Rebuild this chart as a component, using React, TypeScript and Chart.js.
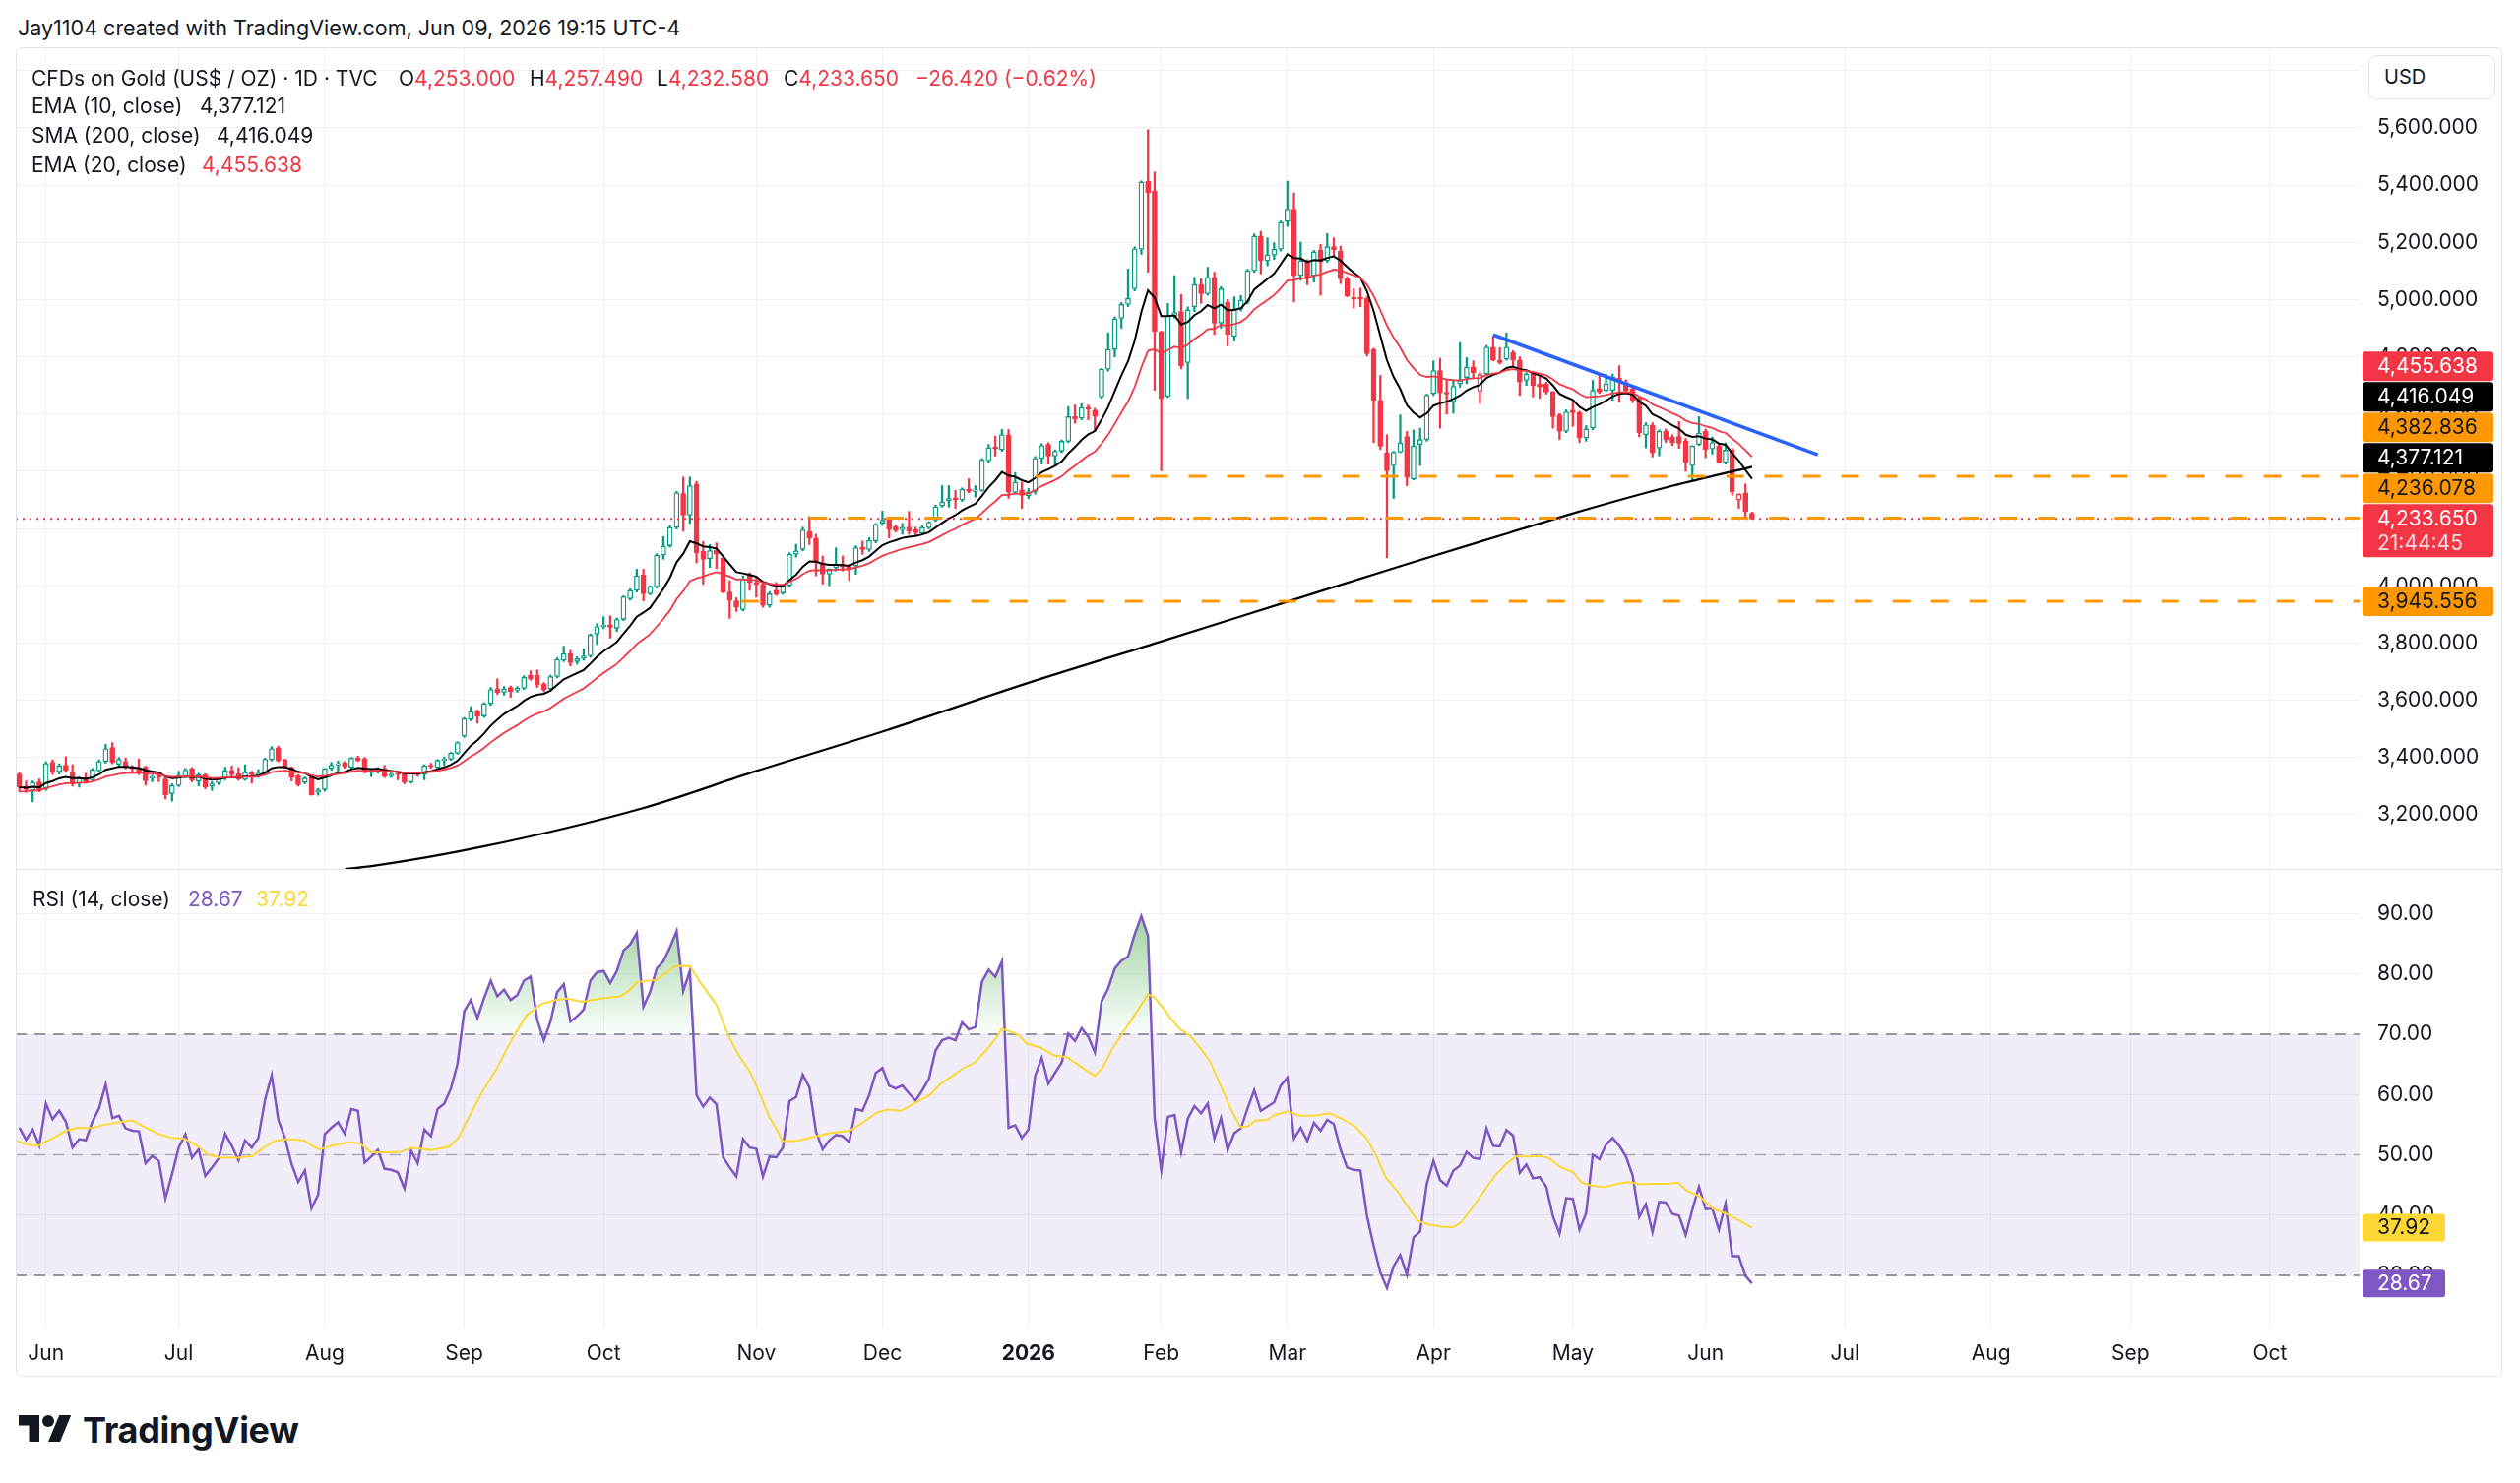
import React, { useEffect, useRef } from 'react';
import { Chart, registerables } from 'chart.js';

Chart.register(...registerables);

// ---------------- DATA ----------------
// Daily candles [open, high, low, close]; bar index 0 = first June 2025 session.
const FIRST_INDEX = -4;
const barsMay25 = [
  [3342, 3348, 3280, 3296], [3300, 3318, 3278, 3288], [3285, 3318, 3245, 3313], [3315, 3325, 3280, 3284],
];
const barsJun25 = [
  [3290, 3385, 3285, 3379], [3383, 3392, 3340, 3348], [3350, 3378, 3342, 3371], [3373, 3403, 3350, 3354],
  [3350, 3375, 3300, 3308], [3310, 3333, 3296, 3328], [3330, 3345, 3310, 3313], [3322, 3362, 3318, 3357],
  [3354, 3392, 3350, 3386], [3386, 3446, 3380, 3431], [3435, 3452, 3378, 3383], [3376, 3400, 3370, 3394],
  [3386, 3398, 3360, 3365], [3365, 3372, 3345, 3360], [3360, 3395, 3340, 3352], [3366, 3370, 3303, 3319],
  [3328, 3338, 3315, 3333], [3340, 3345, 3315, 3330], [3325, 3332, 3255, 3270], [3274, 3308, 3248, 3302],
];
const barsJul25 = [
  [3302, 3352, 3298, 3336], [3333, 3362, 3328, 3356], [3360, 3365, 3315, 3321], [3318, 3345, 3300, 3340],
  [3340, 3344, 3290, 3296], [3300, 3315, 3285, 3308], [3312, 3330, 3305, 3328], [3328, 3366, 3322, 3354],
  [3355, 3370, 3335, 3340], [3343, 3365, 3320, 3325], [3323, 3375, 3320, 3348], [3347, 3352, 3310, 3340],
  [3338, 3358, 3330, 3345], [3345, 3398, 3340, 3394], [3392, 3438, 3388, 3431], [3434, 3440, 3385, 3388],
  [3391, 3395, 3362, 3365], [3365, 3368, 3318, 3330], [3336, 3340, 3300, 3305], [3313, 3332, 3308, 3328],
  [3330, 3336, 3268, 3270], [3278, 3292, 3268, 3286],
];
const barsAug25 = [
  [3288, 3362, 3282, 3360], [3362, 3383, 3355, 3373], [3374, 3388, 3352, 3378], [3382, 3386, 3362, 3368],
  [3366, 3400, 3362, 3398], [3398, 3405, 3386, 3390], [3396, 3400, 3345, 3348], [3348, 3358, 3333, 3355],
  [3352, 3365, 3345, 3362], [3362, 3373, 3330, 3333], [3336, 3346, 3330, 3342], [3346, 3350, 3322, 3340],
  [3342, 3345, 3308, 3313], [3314, 3348, 3310, 3345], [3346, 3350, 3334, 3340], [3342, 3375, 3322, 3371],
  [3373, 3380, 3362, 3368], [3365, 3393, 3360, 3390], [3390, 3402, 3372, 3395], [3394, 3418, 3390, 3415],
  [3415, 3455, 3412, 3452],
];
const barsSep25 = [
  [3475, 3540, 3470, 3536], [3533, 3578, 3528, 3560], [3562, 3566, 3520, 3545], [3545, 3592, 3540, 3588],
  [3588, 3645, 3582, 3637], [3640, 3675, 3620, 3627], [3628, 3648, 3618, 3640], [3645, 3650, 3610, 3630],
  [3635, 3648, 3628, 3642], [3642, 3686, 3638, 3680], [3688, 3703, 3670, 3674], [3688, 3706, 3645, 3653],
  [3657, 3662, 3630, 3637], [3640, 3688, 3635, 3683], [3683, 3748, 3678, 3743], [3740, 3789, 3735, 3763],
  [3763, 3775, 3720, 3731], [3735, 3752, 3726, 3745], [3746, 3780, 3740, 3755], [3755, 3832, 3750, 3828],
  [3831, 3868, 3795, 3857],
];
const barsOct25 = [
  [3858, 3892, 3850, 3862], [3863, 3895, 3817, 3855], [3852, 3888, 3840, 3882], [3883, 3965, 3878, 3961],
  [3955, 3990, 3950, 3984], [3984, 4058, 3978, 4035], [4038, 4058, 3947, 3972], [3972, 4000, 3968, 3997],
  [3997, 4112, 3992, 4107], [4108, 4172, 4093, 4138], [4140, 4210, 4135, 4204], [4204, 4330, 4198, 4325],
  [4322, 4380, 4190, 4247], [4247, 4380, 4218, 4350], [4356, 4365, 4080, 4115], [4120, 4155, 4005, 4092],
  [4095, 4144, 4064, 4123], [4125, 4150, 4060, 4110], [4096, 4100, 3975, 3978], [3978, 4018, 3886, 3949],
  [3947, 3958, 3910, 3926], [3917, 4035, 3912, 4024], [4040, 4046, 3984, 4012],
];
const barsNov25 = [
  [4012, 4030, 3960, 4005], [4006, 4010, 3925, 3932], [3932, 3980, 3925, 3972], [3984, 4012, 3966, 3970],
  [3975, 4003, 3970, 4000], [4002, 4115, 3998, 4110], [4110, 4145, 4100, 4122], [4128, 4205, 4122, 4195],
  [4190, 4242, 4144, 4167], [4167, 4180, 4035, 4081], [4081, 4104, 4006, 4041], [4041, 4060, 4000, 4058],
  [4063, 4133, 4052, 4074], [4074, 4104, 4052, 4066], [4068, 4075, 4018, 4060], [4070, 4140, 4040, 4133],
  [4135, 4156, 4110, 4127], [4127, 4168, 4120, 4158], [4157, 4218, 4150, 4215],
];
const barsDec25 = [
  [4219, 4261, 4210, 4229], [4230, 4238, 4167, 4196], [4206, 4212, 4188, 4193], [4196, 4218, 4180, 4204],
  [4205, 4260, 4180, 4190], [4197, 4205, 4175, 4185], [4184, 4210, 4180, 4204], [4203, 4225, 4198, 4222],
  [4230, 4282, 4225, 4276], [4280, 4350, 4275, 4293], [4297, 4350, 4275, 4305], [4308, 4333, 4270, 4300],
  [4300, 4342, 4295, 4337], [4337, 4374, 4325, 4330], [4330, 4350, 4310, 4335], [4333, 4445, 4330, 4440],
  [4437, 4494, 4430, 4482], [4485, 4523, 4453, 4478], [4476, 4546, 4470, 4528], [4528, 4546, 4305, 4327],
  [4327, 4396, 4322, 4362], [4335, 4362, 4270, 4316],
];
const barsJan26 = [
  [4315, 4340, 4305, 4328], [4330, 4452, 4320, 4445], [4445, 4497, 4425, 4490], [4494, 4500, 4425, 4453],
  [4453, 4475, 4420, 4470], [4471, 4510, 4465, 4505], [4505, 4626, 4500, 4591], [4591, 4632, 4568, 4582],
  [4586, 4637, 4580, 4623], [4624, 4632, 4580, 4617], [4614, 4620, 4540, 4592], [4660, 4760, 4655, 4757],
  [4757, 4884, 4750, 4826], [4826, 4940, 4800, 4933], [4935, 4990, 4900, 4983], [4984, 5107, 4975, 5004],
  [5038, 5185, 5030, 5178], [5176, 5415, 5158, 5411], [5414, 5594, 5096, 5373], [5380, 5446, 4683, 4889],
];
const barsFeb26 = [
  [4889, 4890, 4402, 4654], [4662, 4987, 4658, 4944], [4942, 5084, 4935, 4955], [4958, 5018, 4758, 4769],
  [4780, 4975, 4654, 4964], [4975, 5078, 4958, 5052], [5052, 5073, 4987, 5021], [5021, 5113, 5015, 5078],
  [5078, 5096, 4878, 4918], [4918, 5045, 4900, 5038], [4992, 5000, 4838, 4878], [4872, 5010, 4855, 4967],
  [4967, 5015, 4960, 4998], [4993, 5106, 4985, 5101], [5101, 5230, 5095, 5222], [5222, 5239, 5090, 5136],
  [5136, 5216, 5118, 5156], [5156, 5199, 5140, 5176], [5176, 5275, 5170, 5270],
];
const barsMar26 = [
  [5273, 5414, 5256, 5316], [5316, 5373, 4992, 5084], [5084, 5201, 5067, 5136], [5132, 5140, 5052, 5078],
  [5084, 5172, 5061, 5167], [5172, 5193, 5015, 5132], [5136, 5231, 5130, 5185], [5185, 5216, 5153, 5174],
  [5170, 5187, 5056, 5073], [5073, 5080, 5010, 5013], [5008, 5038, 4970, 5003], [5008, 5040, 4975, 5001],
  [5004, 5010, 4803, 4811], [4826, 4830, 4500, 4648], [4648, 4735, 4476, 4488], [4465, 4528, 4098, 4402],
  [4420, 4470, 4305, 4467], [4467, 4597, 4465, 4499], [4522, 4540, 4350, 4379], [4373, 4545, 4370, 4488],
  [4494, 4551, 4420, 4511], [4511, 4670, 4505, 4666],
];
const barsApr26 = [
  [4672, 4786, 4665, 4752], [4752, 4795, 4551, 4674], [4676, 4718, 4600, 4670], [4643, 4717, 4603, 4697],
  [4706, 4850, 4694, 4717], [4728, 4797, 4706, 4763], [4765, 4786, 4728, 4745], [4680, 4745, 4637, 4738],
  [4740, 4840, 4735, 4834], [4834, 4872, 4786, 4788], [4788, 4832, 4775, 4780], [4792, 4884, 4788, 4834],
  [4815, 4822, 4770, 4788], [4788, 4800, 4665, 4712], [4718, 4745, 4700, 4740], [4744, 4750, 4660, 4700],
  [4706, 4735, 4655, 4695], [4706, 4712, 4670, 4677], [4677, 4680, 4551, 4591], [4597, 4602, 4511, 4540],
  [4540, 4615, 4535, 4608],
];
const barsMay26 = [
  [4614, 4648, 4557, 4605], [4605, 4610, 4500, 4517], [4517, 4560, 4505, 4548], [4551, 4718, 4545, 4683],
  [4688, 4735, 4672, 4677], [4683, 4740, 4678, 4706], [4683, 4740, 4648, 4729], [4726, 4769, 4643, 4711],
  [4711, 4720, 4680, 4683], [4688, 4695, 4640, 4648], [4655, 4662, 4520, 4534], [4528, 4570, 4482, 4562],
  [4562, 4570, 4450, 4465], [4482, 4545, 4454, 4540], [4540, 4548, 4500, 4511], [4520, 4528, 4490, 4500],
  [4522, 4574, 4480, 4498], [4505, 4515, 4400, 4430], [4420, 4490, 4367, 4488], [4494, 4591, 4490, 4534],
];
const barsJun26 = [
  [4540, 4548, 4448, 4477], [4478, 4520, 4460, 4500], [4488, 4495, 4430, 4431], [4431, 4500, 4425, 4474],
  [4474, 4480, 4316, 4328], [4300, 4322, 4270, 4320], [4325, 4356, 4241, 4260.07], [4253, 4257.49, 4232.58, 4233.65],
];

// RSI(14) per bar, aligned with the candles
const rsiMay25 = [54.5, 52.5, 54.2, 51.5];
const rsiJun25 = [58.5, 55.9, 57.3, 55.5, 51.2, 52.6, 52.4, 55.5, 57.7, 61.7, 56.1, 56.5, 54.4, 54.0, 53.9, 48.6, 49.8, 49.0, 42.8, 46.8];
const rsiJul25 = [51.2, 53.4, 49.5, 50.9, 46.5, 47.9, 49.4, 53.5, 51.5, 49.1, 52.4, 51.2, 52.8, 59.1, 63.2, 55.8, 52.8, 48.5, 45.5, 47.4, 41.1, 43.4];
const rsiAug25 = [53.4, 54.5, 55.4, 53.5, 57.6, 57.3, 48.7, 49.7, 50.8, 47.7, 47.5, 47.1, 44.4, 50.7, 48.6, 54.2, 53.1, 57.6, 58.5, 61.0, 65.1];
const rsiSep25 = [73.8, 75.7, 72.7, 76.0, 78.9, 76.3, 77.4, 75.7, 76.5, 78.9, 79.6, 72.4, 69.0, 72.1, 77.0, 78.3, 72.1, 73.0, 74.1, 78.9, 80.3];
const rsiOct25 = [80.5, 78.5, 80.5, 83.9, 84.9, 86.8, 74.6, 77.0, 80.9, 82.1, 84.4, 87.1, 77.2, 80.5, 59.9, 58.0, 59.5, 58.4, 49.6, 47.9, 46.4, 52.6, 51.2];
const rsiNov25 = [51.0, 46.4, 49.7, 49.6, 51.2, 58.9, 59.6, 63.3, 61.2, 53.8, 50.9, 52.4, 53.3, 53.1, 52.1, 57.6, 57.3, 59.9, 63.6];
const rsiDec25 = [64.4, 61.5, 61.0, 61.5, 60.2, 59.0, 60.7, 62.6, 67.3, 69.0, 69.4, 69.0, 72.0, 70.8, 71.2, 78.7, 80.7, 79.5, 82.1, 54.5, 54.9, 52.8];
const rsiJan26 = [54.2, 63.1, 66.1, 61.8, 63.6, 65.3, 70.1, 68.9, 71.0, 69.6, 67.0, 75.4, 77.6, 80.9, 82.2, 82.9, 86.6, 89.6, 86.3, 56.1];
const rsiFeb26 = [47.4, 56.3, 56.6, 50.4, 56.0, 58.1, 56.9, 58.5, 52.7, 56.1, 50.8, 53.6, 54.4, 57.7, 60.7, 57.3, 58.0, 58.7, 61.5];
const rsiMar26 = [62.8, 52.7, 54.5, 52.3, 55.3, 54.0, 55.8, 55.1, 50.9, 47.9, 47.5, 47.4, 39.8, 34.9, 30.5, 27.9, 31.5, 33.4, 30.1, 36.3, 37.3, 45.2];
const rsiApr26 = [49.0, 45.8, 44.9, 47.4, 48.2, 50.5, 49.5, 49.3, 54.4, 51.5, 51.4, 54.1, 53.2, 47.0, 48.4, 46.1, 46.3, 44.7, 39.8, 36.9, 42.8];
const rsiMay26 = [42.7, 37.6, 40.3, 50.0, 49.3, 51.7, 52.8, 51.5, 49.7, 46.6, 39.7, 41.8, 37.2, 42.2, 42.1, 40.2, 39.9, 36.7, 40.9, 44.7];
const rsiJun26 = [41.0, 41.1, 37.6, 41.9, 33.2, 33.2, 29.9, 28.67];

// RSI-based MA, read as [bar index, value]
const rsiMaQ1 = [[-4.3, 52.3], [-2.9, 51.7], [-1.1, 51.5], [-0.1, 52.2], [1.0, 52.7], [3.0, 54.0], [4.9, 54.5], [6.9, 54.4], [8.8, 55.0], [10.8, 55.4], [13.0, 55.7], [15.0, 54.5], [16.9, 53.5], [18.9, 52.8], [20.8, 52.7], [22.8, 51.5], [24.5, 50.0], [26.4, 49.5], [28.9, 49.5], [31.1, 49.8], [32.8, 51.2], [34.5, 52.3], [36.2, 52.6], [38.9, 52.4], [40.1, 51.5], [41.2, 50.9], [43.4, 51.6], [45.6, 52.1], [47.3, 51.9], [49.0, 50.4], [51.2, 50.4], [53.5, 50.5], [55.1, 51.2], [57.9, 50.8], [60.7, 51.3], [62.1, 52.8]];
const rsiMaQ2 = [[63.5, 55.8], [65.7, 60.4], [67.9, 64.3], [70.2, 69.2], [72.4, 73.2], [74.6, 75.0], [76.9, 75.7], [78.6, 75.9], [80.7, 75.4], [84.0, 76.0], [86.5, 76.3], [87.9, 77.3], [89.1, 78.7], [91.9, 79.0], [93.6, 80.3], [94.7, 81.3], [97.0, 81.3], [98.7, 78.4], [101.0, 74.9], [102.7, 70.0], [104.4, 66.4], [106.1, 63.7], [107.8, 59.4], [108.9, 56.4], [110.1, 54.2], [110.9, 52.3], [112.9, 52.3], [114.6, 52.7], [116.9, 53.3], [118.0, 53.6], [121.1, 54.0], [123.1, 55.4], [125.1, 57.0]];
const rsiMaQ3 = [[126.8, 57.5], [128.8, 57.3], [131.1, 58.7], [133.1, 59.9], [134.8, 61.8], [136.7, 63.2], [138.2, 64.4], [139.9, 65.3], [141.6, 67.3], [143.0, 69.2], [144.0, 70.9], [146.4, 70.0], [147.8, 68.4], [149.8, 67.8], [151.8, 66.5], [153.8, 66.2], [156.6, 64.1], [158.0, 63.1], [159.2, 64.5], [160.6, 67.5], [162.3, 70.4], [164.0, 73.2], [166.0, 76.6], [166.9, 76.2], [168.2, 74.5], [169.5, 72.5], [170.9, 70.8], [172.4, 69.7], [173.8, 67.8], [175.3, 65.6], [176.7, 62.1], [178.1, 58.5], [179.9, 54.6], [181.0, 54.7], [182.2, 55.7], [183.9, 55.8], [185.1, 56.6]];
const rsiMaQ4 = [[187.0, 57.2], [188.8, 56.5], [191.1, 56.5], [193.4, 56.9], [195.2, 56.0], [197.2, 54.7], [198.9, 52.8], [200.4, 49.8], [201.8, 46.3], [203.8, 43.6], [205.3, 41.1], [206.7, 39.0], [208.4, 38.4], [210.2, 38.1], [211.9, 38.0], [213.1, 38.7], [214.8, 41.1], [216.5, 43.8], [218.3, 46.6], [220.0, 48.5], [221.4, 49.7], [223.4, 49.7], [225.2, 49.8], [226.3, 49.5], [228.1, 48.0], [230.1, 47.1], [231.2, 45.5], [232.7, 44.9], [234.7, 44.6], [236.1, 45.0], [238.2, 45.5], [240.2, 45.1], [241.9, 45.2], [244.2, 45.2], [245.9, 45.4], [247.1, 44.1], [249.1, 43.1], [251.1, 41.1], [253.2, 40.2], [254.9, 39.2], [257.0, 37.92]];

// SMA(200) read as [bar index, value]
const sma200Points = [[45.1, 3010], [49.3, 3021], [65.7, 3088], [89.9, 3223], [106.9, 3352], [126.2, 3492], [148, 3661], [167.5, 3802], [186.8, 3943], [205.6, 4080], [220.4, 4185], [230.3, 4255], [245.1, 4350], [257, 4416]];
const emaSeeds = [3296, 3281]; // EMA10, EMA20 at the first visible bar

// Drawn levels
const levelValues = [4382.836, 4236.078, 3945.556];
const levelStarts = [149, 115, 104.7];
const trendFrom = [218.0, 4877];
const trendTo = [266.9, 4458];

// Last values shown in legend / axis
const lastOHLC = [4253.0, 4257.49, 4232.58, 4233.65];
const lastChange = -26.42;
const lastChangePct = -0.62;
const lastEma10 = 4377.121;
const lastSma200 = 4416.049;
const lastEma20 = 4455.638;
const lastRsi = 28.67;
const lastRsiMa = 37.92;
const countdownText = '21:44:45';

// Axis ticks
const priceTicks = [3200, 3400, 3600, 3800, 4000, 4200, 4400, 4600, 4800, 5000, 5200, 5400, 5600, 5800];
const rsiTicks = [30, 40, 50, 60, 70, 80, 90];
const monthTickIndex = [0, 20, 42, 63, 84, 107, 126, 148, 168, 187, 209, 230, 250, 271, 293, 314, 335];
const monthTickLabels = ['Jun', 'Jul', 'Aug', 'Sep', 'Oct', 'Nov', 'Dec', '2026', 'Feb', 'Mar', 'Apr', 'May', 'Jun', 'Jul', 'Aug', 'Sep', 'Oct'];

// ---------------- STYLE ----------------
const X_MIN = -4.55;
const X_MAX = 348.5;
const PRICE_MIN = 3010.6;
const PRICE_MAX = 5878.5;
const RSI_MIN = 21.35;
const RSI_MAX = 97.43;
const GREEN = '#089981';
const RED = '#F23645';
const ORANGE = '#FF9800';
const PURPLE = '#7E57C2';
const YELLOW = '#FDD835';
const TEXT = '#131722';
const GRID = '#EFF1F4';
const BORDER = '#E0E3EB';
const FONT = 'Inter, "Noto Sans", sans-serif';

Chart.defaults.font.family = FONT;

const allBars: number[][] = [
  ...barsMay25, ...barsJun25, ...barsJul25, ...barsAug25, ...barsSep25, ...barsOct25, ...barsNov25,
  ...barsDec25, ...barsJan26, ...barsFeb26, ...barsMar26, ...barsApr26, ...barsMay26, ...barsJun26,
];
const allRsi: number[] = [
  ...rsiMay25, ...rsiJun25, ...rsiJul25, ...rsiAug25, ...rsiSep25, ...rsiOct25, ...rsiNov25,
  ...rsiDec25, ...rsiJan26, ...rsiFeb26, ...rsiMar26, ...rsiApr26, ...rsiMay26, ...rsiJun26,
];
const allRsiMa = [...rsiMaQ1, ...rsiMaQ2, ...rsiMaQ3, ...rsiMaQ4];

const fmt3 = (v: number) => v.toLocaleString('en-US', { minimumFractionDigits: 3, maximumFractionDigits: 3 });
const fmtSigned = (v: number, d: number) => (v < 0 ? '\u2212' : '+') + Math.abs(v).toLocaleString('en-US', { minimumFractionDigits: d, maximumFractionDigits: d });

function emaSeries(values: number[], period: number, seed: number) {
  const a = 2 / (period + 1);
  const out: number[] = [];
  let e = seed;
  values.forEach((v, k) => {
    e = k === 0 ? seed : a * v + (1 - a) * e;
    out.push(e);
  });
  return out;
}

function roundRect(ctx: any, x: number, y: number, w: number, h: number, r: number) {
  ctx.beginPath();
  if (ctx.roundRect) ctx.roundRect(x, y, w, h, r);
  else ctx.rect(x, y, w, h);
  ctx.fill();
}

const priceLabelItems = [
  { value: lastEma20, bg: RED, fg: '#FFFFFF', lines: 1 },
  { value: lastSma200, bg: '#000000', fg: '#FFFFFF', lines: 1 },
  { value: levelValues[0], bg: ORANGE, fg: TEXT, lines: 1 },
  { value: lastEma10, bg: '#000000', fg: '#FFFFFF', lines: 1 },
  { value: levelValues[1], bg: ORANGE, fg: TEXT, lines: 1 },
  { value: lastOHLC[3], bg: RED, fg: '#FFFFFF', lines: 2 },
  { value: levelValues[2], bg: ORANGE, fg: TEXT, lines: 1 },
];

const priceLabelPlugin = {
  id: 'priceLabels',
  afterDraw(chart: any) {
    const { ctx, chartArea, scales } = chart;
    const ys = scales.y;
    const left = chartArea.right + 3;
    const w = 133;
    const h = 30;
    const h2 = 54;
    const items = priceLabelItems;
    const ai = items.findIndex((it) => it.lines === 2);
    const tops: number[] = new Array(items.length);
    const anchorTop = ys.getPixelForValue(items[ai].value) - h / 2;
    tops[ai] = anchorTop;
    let prevTop = anchorTop;
    for (let k = ai - 1; k >= 0; k--) {
      const cy = Math.min(ys.getPixelForValue(items[k].value), prevTop - 1 - h / 2);
      tops[k] = cy - h / 2;
      prevTop = tops[k];
    }
    let prevBottom = anchorTop + h2;
    for (let k = ai + 1; k < items.length; k++) {
      const cy = Math.max(ys.getPixelForValue(items[k].value), prevBottom + 1 + h / 2);
      tops[k] = cy - h / 2;
      prevBottom = tops[k] + h;
    }
    ctx.save();
    ctx.font = `21px ${FONT}`;
    ctx.textBaseline = 'middle';
    ctx.textAlign = 'left';
    items.forEach((it, k) => {
      const top = tops[k];
      ctx.fillStyle = it.bg;
      roundRect(ctx, left, top, w, it.lines === 2 ? h2 : h, 3);
      ctx.fillStyle = it.fg;
      ctx.fillText(fmt3(it.value), left + 15, top + 15.5);
      if (it.lines === 2) {
        ctx.fillStyle = 'rgba(255,255,255,0.82)';
        ctx.fillText(countdownText, left + 15, top + 40.5);
      }
    });
    ctx.restore();
  },
};

const rsiLabelPlugin = {
  id: 'rsiLabels',
  afterDraw(chart: any) {
    const { ctx, chartArea, scales } = chart;
    const ys = scales.y;
    const left = chartArea.right + 3;
    const items = [
      { value: lastRsiMa, bg: YELLOW, fg: TEXT },
      { value: lastRsi, bg: PURPLE, fg: '#FFFFFF' },
    ];
    ctx.save();
    ctx.font = `21px ${FONT}`;
    ctx.textBaseline = 'middle';
    ctx.textAlign = 'left';
    items.forEach((it) => {
      const cy = ys.getPixelForValue(it.value);
      ctx.fillStyle = it.bg;
      roundRect(ctx, left, cy - 14, 84, 28, 3);
      ctx.fillStyle = it.fg;
      ctx.fillText(it.value.toFixed(2), left + 15, cy + 0.5);
    });
    ctx.restore();
  },
};

function buildPriceConfig(): any {
  const xs = allBars.map((_, k) => k + FIRST_INDEX);
  const closes = allBars.map((b) => b[3]);
  const colors = allBars.map((b, k) => {
    const prev = k > 0 ? allBars[k - 1][3] : b[0];
    return b[3] >= prev ? GREEN : RED;
  });
  const e10 = emaSeries(closes, 10, emaSeeds[0]);
  const e20 = emaSeries(closes, 20, emaSeeds[1]);
  const levelSets = levelValues.map((v, k) => ({
    type: 'line',
    data: [{ x: levelStarts[k], y: v }, { x: X_MAX, y: v }],
    borderColor: ORANGE,
    borderWidth: 3,
    borderDash: [18, 21],
    borderCapStyle: 'butt',
    pointRadius: 0,
    fill: false,
    order: 0,
  }));
  return {
    type: 'bar',
    data: {
      datasets: [
        {
          type: 'bar',
          data: allBars.map((b, k) => ({ x: xs[k], y: [b[2], b[1]] })),
          backgroundColor: colors,
          borderWidth: 0,
          barThickness: 1.6,
          grouped: false,
          order: 4,
        },
        {
          type: 'bar',
          data: allBars.map((b, k) => ({ x: xs[k], y: [b[0], b[3]] })),
          backgroundColor: allBars.map((b, k) => (b[3] > b[0] ? '#FFFFFF' : colors[k])),
          borderColor: colors,
          borderWidth: 1.3,
          borderSkipped: false,
          barThickness: 5,
          minBarLength: 1.5,
          grouped: false,
          order: 3,
        },
        {
          type: 'line',
          data: xs.map((x, k) => ({ x, y: e20[k] })),
          borderColor: RED,
          borderWidth: 1.8,
          pointRadius: 0,
          fill: false,
          order: 2,
        },
        {
          type: 'line',
          data: xs.map((x, k) => ({ x, y: e10[k] })),
          borderColor: '#000000',
          borderWidth: 2,
          pointRadius: 0,
          fill: false,
          order: 2,
        },
        {
          type: 'line',
          data: sma200Points.map(([x, y]) => ({ x, y })),
          borderColor: '#000000',
          borderWidth: 2.3,
          pointRadius: 0,
          fill: false,
          cubicInterpolationMode: 'monotone',
          order: 2,
        },
        {
          type: 'line',
          data: [{ x: X_MIN, y: lastOHLC[3] }, { x: X_MAX, y: lastOHLC[3] }],
          borderColor: RED,
          borderWidth: 2,
          borderDash: [2, 5],
          pointRadius: 0,
          fill: false,
          order: 1,
        },
        ...levelSets,
        {
          type: 'line',
          data: [{ x: trendFrom[0], y: trendFrom[1] }, { x: trendTo[0], y: trendTo[1] }],
          borderColor: '#2962FF',
          borderWidth: 3.5,
          pointRadius: 0,
          fill: false,
          order: 0,
        },
      ],
    },
    options: {
      responsive: false,
      animation: false,
      events: [],
      layout: { padding: 0 },
      plugins: { legend: { display: false }, tooltip: { enabled: false } },
      scales: {
        x: {
          type: 'linear',
          min: X_MIN,
          max: X_MAX,
          offset: false,
          grid: { color: GRID, drawTicks: false, offset: false },
          border: { display: false },
          ticks: { display: false },
          afterBuildTicks: (s: any) => { s.ticks = monthTickIndex.map((v) => ({ value: v })); },
          afterFit: (s: any) => { s.height = 0; s.paddingLeft = 0; s.paddingRight = 0; },
        },
        y: {
          type: 'linear',
          position: 'right',
          min: PRICE_MIN,
          max: PRICE_MAX,
          grid: { color: GRID, drawTicks: false },
          border: { display: false },
          ticks: {
            color: TEXT,
            font: { family: FONT, size: 21 },
            padding: 18,
            callback: (v: number) => (v >= 5800 ? '' : fmt3(v)),
          },
          afterBuildTicks: (s: any) => { s.ticks = priceTicks.map((v) => ({ value: v })); },
          afterFit: (s: any) => { s.width = 145; s.paddingTop = 0; s.paddingBottom = 0; },
        },
      },
    },
    plugins: [priceLabelPlugin],
  };
}

function buildRsiConfig(): any {
  const xs = allRsi.map((_, k) => k + FIRST_INDEX);
  const rsiData = xs.map((x, k) => ({ x, y: allRsi[k] }));
  const flat = (v: number) => [{ x: X_MIN, y: v }, { x: X_MAX, y: v }];
  const gradient = (top: boolean) => (c: any) => {
    const ch = c.chart;
    if (!ch.chartArea) return 'rgba(0,0,0,0)';
    const ys = ch.scales.y;
    const a = ys.getPixelForValue(top ? 70 : 30);
    const b = ys.getPixelForValue(top ? 92 : 20);
    const g = ch.ctx.createLinearGradient(0, a, 0, b);
    if (top) {
      g.addColorStop(0, 'rgba(76,175,80,0.02)');
      g.addColorStop(1, 'rgba(76,175,80,0.6)');
    } else {
      g.addColorStop(0, 'rgba(242,54,69,0.02)');
      g.addColorStop(1, 'rgba(242,54,69,0.6)');
    }
    return g;
  };
  return {
    type: 'line',
    data: {
      datasets: [
        {
          data: flat(70),
          borderColor: '#787B86',
          borderWidth: 1.6,
          borderDash: [11, 8],
          backgroundColor: 'rgba(126,87,194,0.1)',
          fill: { value: 30 },
          pointRadius: 0,
          order: 10,
        },
        {
          data: flat(50),
          borderColor: 'rgba(120,123,134,0.55)',
          borderWidth: 1.6,
          borderDash: [11, 8],
          pointRadius: 0,
          fill: false,
          order: 9,
        },
        {
          data: flat(30),
          borderColor: '#787B86',
          borderWidth: 1.6,
          borderDash: [11, 8],
          pointRadius: 0,
          fill: false,
          order: 8,
        },
        {
          data: rsiData,
          borderWidth: 0,
          borderColor: 'rgba(0,0,0,0)',
          backgroundColor: gradient(true),
          fill: { target: { value: 70 }, below: 'rgba(0,0,0,0)' },
          pointRadius: 0,
          order: 7,
        },
        {
          data: rsiData,
          borderWidth: 0,
          borderColor: 'rgba(0,0,0,0)',
          backgroundColor: gradient(false),
          fill: { target: { value: 30 }, above: 'rgba(0,0,0,0)' },
          pointRadius: 0,
          order: 6,
        },
        {
          data: rsiData,
          borderColor: PURPLE,
          borderWidth: 2.5,
          pointRadius: 0,
          fill: false,
          order: 1,
        },
        {
          data: allRsiMa.map(([x, y]) => ({ x, y })),
          borderColor: YELLOW,
          borderWidth: 2,
          pointRadius: 0,
          fill: false,
          order: 0,
        },
      ],
    },
    options: {
      responsive: false,
      animation: false,
      events: [],
      layout: { padding: 0 },
      plugins: { legend: { display: false }, tooltip: { enabled: false } },
      scales: {
        x: {
          type: 'linear',
          min: X_MIN,
          max: X_MAX,
          offset: false,
          grid: { color: GRID, drawTicks: false },
          border: { display: false },
          ticks: {
            color: TEXT,
            padding: 14,
            autoSkip: false,
            maxRotation: 0,
            minRotation: 0,
            font: (c: any) => ({ family: FONT, size: 21, weight: monthTickLabels[c.index] === '2026' ? 'bold' : 'normal' }),
            callback: (_v: number, i: number) => monthTickLabels[i],
          },
          afterBuildTicks: (s: any) => { s.ticks = monthTickIndex.map((v) => ({ value: v })); },
          afterFit: (s: any) => { s.height = 49; s.paddingLeft = 0; s.paddingRight = 0; },
        },
        y: {
          type: 'linear',
          position: 'right',
          min: RSI_MIN,
          max: RSI_MAX,
          grid: { color: GRID, drawTicks: false },
          border: { display: false },
          ticks: {
            color: TEXT,
            font: { family: FONT, size: 21 },
            padding: 18,
            callback: (v: number) => v.toFixed(2),
          },
          afterBuildTicks: (s: any) => { s.ticks = rsiTicks.map((v) => ({ value: v })); },
          afterFit: (s: any) => { s.width = 145; s.paddingTop = 0; s.paddingBottom = 0; },
        },
      },
    },
    plugins: [rsiLabelPlugin],
  };
}

const abs = (left: number, top: number, extra: any = {}): any => ({
  position: 'absolute',
  left,
  top,
  whiteSpace: 'nowrap',
  lineHeight: '28px',
  ...extra,
});

export default function App() {
  const priceRef = useRef<HTMLCanvasElement>(null);
  const rsiRef = useRef<HTMLCanvasElement>(null);

  useEffect(() => {
    document.body.style.margin = '0';
    const c1 = new Chart(priceRef.current as HTMLCanvasElement, buildPriceConfig());
    const c2 = new Chart(rsiRef.current as HTMLCanvasElement, buildRsiConfig());
    return () => {
      c1.destroy();
      c2.destroy();
    };
  }, []);

  const legendFont = { fontFamily: FONT, fontSize: 21, color: TEXT };
  const red = { color: RED };

  return (
    <div style={{ position: 'absolute', left: 0, top: 0, width: 2560, height: 1507, background: '#FFFFFF', overflow: 'hidden', fontFamily: FONT, color: TEXT }}>
      <div style={abs(18, 14, { fontSize: 21.5 })}>Jay1104 created with TradingView.com, Jun 09, 2026 19:15 UTC-4</div>

      <canvas ref={priceRef} width={2526} height={834} style={{ position: 'absolute', left: 16, top: 49, width: 2526, height: 834 }} />
      <canvas ref={rsiRef} width={2526} height={515} style={{ position: 'absolute', left: 16, top: 883, width: 2526, height: 515 }} />

      <div style={{ position: 'absolute', left: 16, top: 883, width: 2526, height: 1, background: BORDER }} />
      <div style={{ position: 'absolute', left: 16, top: 48, width: 2526, height: 1351, border: `1px solid ${BORDER}`, borderRadius: 6, boxSizing: 'border-box', pointerEvents: 'none' }} />

      <div style={{ position: 'absolute', left: 2406, top: 56, width: 129, height: 45, border: `1px solid ${BORDER}`, borderRadius: 8, boxSizing: 'border-box', background: '#FFFFFF', fontSize: 20, lineHeight: '43px', paddingLeft: 15 }}>USD</div>

      <div style={abs(32, 66, legendFont)}>CFDs on Gold (US$ / OZ) · 1D · TVC</div>
      <div style={abs(405, 66, legendFont)}>O<span style={red}>{fmt3(lastOHLC[0])}</span></div>
      <div style={abs(538, 66, legendFont)}>H<span style={red}>{fmt3(lastOHLC[1])}</span></div>
      <div style={abs(667, 66, legendFont)}>L<span style={red}>{fmt3(lastOHLC[2])}</span></div>
      <div style={abs(796, 66, legendFont)}>C<span style={red}>{fmt3(lastOHLC[3])}</span></div>
      <div style={abs(930, 66, { ...legendFont, color: RED })}>{fmtSigned(lastChange, 3)} ({fmtSigned(lastChangePct, 2)}%)</div>

      <div style={abs(32, 94, legendFont)}>EMA (10, close)</div>
      <div style={abs(203, 94, legendFont)}>{fmt3(lastEma10)}</div>
      <div style={abs(32, 124, legendFont)}>SMA (200, close)</div>
      <div style={abs(220, 124, legendFont)}>{fmt3(lastSma200)}</div>
      <div style={abs(32, 154, legendFont)}>EMA (20, close)</div>
      <div style={abs(205, 154, { ...legendFont, color: RED })}>{fmt3(lastEma20)}</div>

      <div style={abs(33, 900, legendFont)}>RSI (14, close)</div>
      <div style={abs(191, 900, { ...legendFont, color: PURPLE })}>{lastRsi.toFixed(2)}</div>
      <div style={abs(260, 900, { ...legendFont, color: YELLOW })}>{lastRsiMa.toFixed(2)}</div>

      <svg width={54} height={42} viewBox="0 0 36 28" style={{ position: 'absolute', left: 19, top: 1432 }}>
        <path d="M14 22H7V11H0V4h14v18zM28 22h-8l7.5-18h8L28 22z" fill="#131722" />
        <circle cx="20" cy="8" r="4" fill="#131722" />
      </svg>
      <div style={abs(84, 1431, { fontSize: 36, fontWeight: 700, lineHeight: '44px', letterSpacing: -0.3, color: '#131722' })}>TradingView</div>
    </div>
  );
}
